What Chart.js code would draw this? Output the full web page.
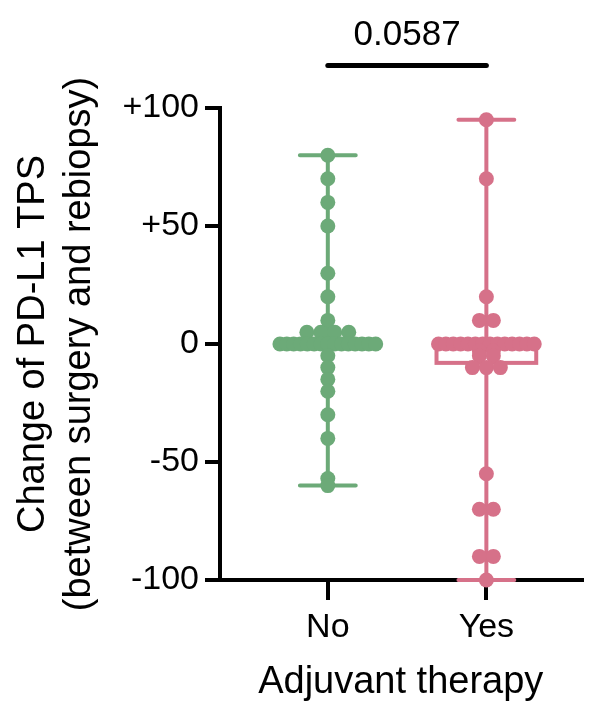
<!DOCTYPE html>
<html>
<head>
<meta charset="utf-8">
<script src="https://cdn.jsdelivr.net/npm/chart.js@4"></script>
<style>
html, body { margin: 0; padding: 0; background: #fff; }
#wrap { width: 589px; height: 702px; }
</style>
</head>
<body>
<div id="wrap"><canvas id="chart" width="589" height="702"></canvas></div>
<script>
// 데이터
const categories = ['No', 'Yes'];
const noValues = [80, 70, 60, 50, 30, 20, 10, 5, 5, 5, 5,
	0, 0, 0, 0, 0, 0, 0, 0, 0, 0, 0, 0, 0, 0, 0,
	-5, -10, -15, -20, -30, -40, -57, -60];
const yesValues = [95, 70, 20, 10, 10,
	0, 0, 0, 0, 0, 0, 0, 0, 0, 0, 0, 0, 0, 0,
	-3, -3, -5, -5, -10, -10, -10, -55, -70, -70, -90, -90, -100];
// 박스 요약 (min, Q1, median, Q3, max)
const boxMin = [-60, -100];
const boxQ1 = [0, -8];
const boxMedian = [0, 0];
const boxQ3 = [0, 0];
const boxMax = [80, 95];
const yTicks = [-100, -50, 0, 50, 100];
const pValue = '0.0587';
const sigPair = [1, 2];

const FONT = '"Liberation Sans", Helvetica, Arial, sans-serif';
const GREEN = 'rgb(108,170,120)';
const PINK = 'rgb(214,113,137)';
const groupColors = [GREEN, PINK];

// 배치 상수 (x 단위)
const X_MIN = 0.32, X_MAX = 2.60;
const DOT_STEP = 14 / 159;
const ROW_WIDTH = 96 / 159;
const CAP_HALF = 28 / 159;
const BOX_HALF = 50 / 159;
const SIG_LEVEL = 118;

// 같은 값끼리 가로로 펼치기
function spread(values, center) {
	const rows = new Map();
	values.forEach(v => {
		if (!rows.has(v)) rows.set(v, 0);
		rows.set(v, rows.get(v) + 1);
	});
	const pts = [];
	rows.forEach((n, v) => {
		const step = n > 1 ? Math.min(DOT_STEP, ROW_WIDTH / (n - 1)) : 0;
		for (let i = 0; i < n; i++) pts.push({ x: center + (i - (n - 1) / 2) * step, y: v });
	});
	return pts;
}

// 박스 + 수염
const boxPlugin = {
	id: 'boxWhisker',
	beforeDatasetsDraw(chart) {
		const { ctx, scales: { x, y } } = chart;
		ctx.save();
		ctx.lineWidth = 4;
		categories.forEach((c, i) => {
			const cx = x.getPixelForValue(i + 1);
			const cl = x.getPixelForValue(i + 1 - CAP_HALF), cr = x.getPixelForValue(i + 1 + CAP_HALF);
			const bl = x.getPixelForValue(i + 1 - BOX_HALF), br = x.getPixelForValue(i + 1 + BOX_HALF);
			const yMin = y.getPixelForValue(boxMin[i]), yMax = y.getPixelForValue(boxMax[i]);
			const yQ1 = y.getPixelForValue(boxQ1[i]), yQ3 = y.getPixelForValue(boxQ3[i]);
			const yMed = y.getPixelForValue(boxMedian[i]);
			ctx.strokeStyle = groupColors[i];
			ctx.lineCap = 'round';
			ctx.beginPath();
			ctx.moveTo(cx, yMax); ctx.lineTo(cx, yQ3);
			ctx.moveTo(cx, yQ1); ctx.lineTo(cx, yMin);
			ctx.moveTo(cl, yMax); ctx.lineTo(cr, yMax);
			ctx.moveTo(cl, yMin); ctx.lineTo(cr, yMin);
			ctx.stroke();
			ctx.lineCap = 'butt';
			ctx.fillStyle = '#fff';
			ctx.fillRect(bl, yQ3, br - bl, yQ1 - yQ3);
			ctx.strokeRect(bl, yQ3, br - bl, yQ1 - yQ3);
			ctx.beginPath();
			ctx.moveTo(bl, yMed); ctx.lineTo(br, yMed);
			ctx.stroke();
		});
		ctx.restore();
	}
};

// 유의성 표시
const sigPlugin = {
	id: 'sigBar',
	afterDatasetsDraw(chart) {
		const { ctx, scales: { x, y } } = chart;
		const x1 = x.getPixelForValue(sigPair[0]), x2 = x.getPixelForValue(sigPair[1]);
		const yy = y.getPixelForValue(SIG_LEVEL);
		ctx.save();
		ctx.strokeStyle = '#000';
		ctx.lineWidth = 5;
		ctx.lineCap = 'round';
		ctx.beginPath(); ctx.moveTo(x1, yy); ctx.lineTo(x2, yy); ctx.stroke();
		ctx.fillStyle = '#000';
		ctx.font = '35px ' + FONT;
		ctx.textAlign = 'center';
		ctx.textBaseline = 'alphabetic';
		ctx.fillText(pValue, (x1 + x2) / 2, yy - 21);
		ctx.restore();
	}
};

const dotSets = [noValues, yesValues].map((vals, i) => ({
	data: spread(vals, i + 1),
	backgroundColor: groupColors[i],
	borderWidth: 0,
	pointRadius: 7.5,
	pointHoverRadius: 7.5,
	clip: false
}));

new Chart(document.getElementById('chart'), {
	type: 'scatter',
	data: { datasets: dotSets },
	plugins: [boxPlugin, sigPlugin],
	options: {
		responsive: false,
		animation: false,
		events: [],
		layout: { padding: { top: 108, right: 0, bottom: 0, left: 0 } },
		plugins: { legend: { display: false }, tooltip: { enabled: false } },
		scales: {
			x: {
				type: 'linear',
				min: X_MIN,
				max: X_MAX,
				afterBuildTicks: s => { s.ticks = categories.map((c, i) => ({ value: i + 1 })); },
				afterFit: s => { s.height = 122; },
				border: { display: true, color: '#000', width: 4 },
				grid: { drawOnChartArea: false, drawTicks: true, tickLength: 20, color: '#000', lineWidth: 4 },
				ticks: {
					color: '#000', padding: 7, autoSkip: false, maxRotation: 0,
					font: { family: FONT, size: 34 },
					callback: v => categories[Math.round(v) - 1] ?? ''
				},
				title: {
					display: true, text: 'Adjuvant therapy', color: '#000',
					font: { family: FONT, size: 38, lineHeight: 1 },
					padding: { top: 0, bottom: 0 }
				}
			},
			y: {
				min: -100,
				max: 100,
				afterBuildTicks: s => { s.ticks = yTicks.map(v => ({ value: v })); },
				afterFit: s => { s.width = 220; },
				border: { display: true, color: '#000', width: 4 },
				grid: { drawOnChartArea: false, drawTicks: true, tickLength: 15, color: '#000', lineWidth: 4 },
				ticks: {
					color: '#000', padding: 6,
					font: { family: FONT, size: 34 },
					callback: v => v > 0 ? '+' + v : String(v)
				},
				title: {
					display: true,
					text: ['Change of PD-L1 TPS', '(between surgery and rebiopsy)'],
					color: '#000',
					font: { family: FONT, size: 38, lineHeight: 1.2 },
					padding: { top: 11, bottom: 0 }
				}
			}
		}
	}
});
</script>
</body>
</html>
